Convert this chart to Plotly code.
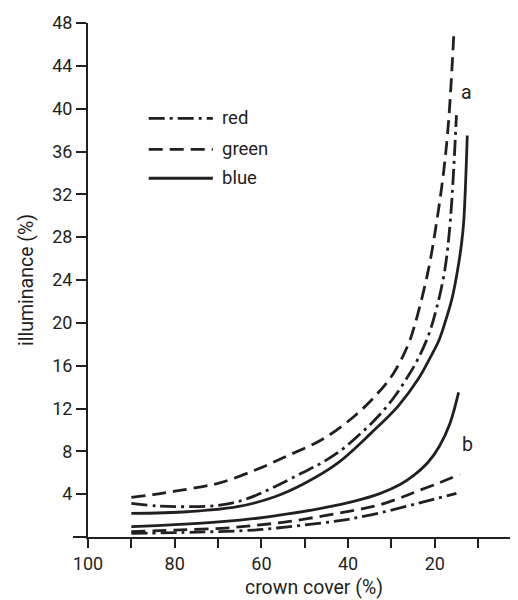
import plotly.graph_objects as go

# ---- data ----
# group "a"
a_blue_x = [90, 77, 65.5, 56.9, 50.1, 42.4, 34.7, 28.5, 23.9, 21.0, 19.0, 17.5, 16.0, 14.5, 13.8, 13.3, 12.5]
a_blue_y = [2.2, 2.36, 2.83, 3.76, 5.0, 6.9, 9.7, 12.2, 14.7, 16.8, 18.4, 20.2, 22.3, 25.5, 27.5, 29.6, 37.5]
a_red_x = [90, 84, 77, 69.2, 63.1, 56.9, 50.8, 46.2, 41.6, 37.0, 33.2, 29.3, 26.2, 23.9, 21.4, 19.5, 17.7, 16.4, 15.0]
a_red_y = [3.15, 2.9, 2.83, 2.99, 3.6, 4.7, 5.95, 6.9, 8.1, 9.7, 11.2, 13.1, 15.0, 16.6, 18.9, 21.5, 24.9, 29.6, 39.4]
a_green_x = [90, 85, 80.3, 75, 69.2, 61.1, 53.9, 46.0, 38.5, 33.2, 29.5, 26.1, 24.4, 21.5, 19.5, 17.9, 16.8, 15.6]
a_green_y = [3.7, 3.95, 4.25, 4.6, 5.1, 6.3, 7.6, 9.1, 11.3, 13.4, 15.3, 18.0, 20.1, 24.9, 29.6, 34.3, 38.9, 47.0]
# group "b"
b_blue_x = [90, 80, 69.2, 61, 53.9, 46, 38.5, 32.7, 28.0, 25.0, 21.5, 18.9, 16.5, 14.5]
b_blue_y = [0.96, 1.15, 1.43, 1.75, 2.15, 2.7, 3.35, 4.05, 4.9, 5.7, 7.0, 8.5, 10.6, 13.5]
b_green_x = [90, 80, 69.2, 61, 53.9, 46, 38.5, 32.7, 27, 23.9, 19, 14.2]
b_green_y = [0.5, 0.65, 0.81, 1.1, 1.43, 1.95, 2.5, 3.0, 3.8, 4.3, 5.05, 5.85]
b_red_x = [90, 75, 61.6, 53.9, 46.2, 40, 32.7, 23.9, 15.0]
b_red_y = [0.34, 0.45, 0.65, 0.95, 1.3, 1.65, 2.25, 3.15, 4.08]

x_ticks = [100, 90, 80, 70, 60, 50, 40, 30, 20, 10]
x_ticklabels = ["100", "", "80", "", "60", "", "40", "", "20", ""]
y_ticks = [4, 8, 12, 16, 20, 24, 28, 32, 36, 40, 44, 48]
legend_names = ["red", "green", "blue"]

FONT = "Roboto, Liberation Sans, sans-serif"
INK = "#231f20"
DASHDOT = "16px,5px,3px,5px"
DASH = "14px,7px"
LW = 2.8
FS = 18
FT = 19.5

fig = go.Figure()

def add(x, y, dash):
    fig.add_trace(go.Scatter(x=x, y=y, mode="lines",
                             line=dict(color=INK, width=LW, dash=dash, shape="spline", smoothing=1.0),
                             showlegend=False, hoverinfo="skip"))

add(a_green_x, a_green_y, DASH)
add(a_red_x, a_red_y, DASHDOT)
add(a_blue_x, a_blue_y, "solid")
add(b_blue_x, b_blue_y, "solid")
add(b_green_x, b_green_y, DASH)
add(b_red_x, b_red_y, DASHDOT)

# legend (manual)
legend_dashes = [DASHDOT, DASH, "solid"]
legend_y = [39.1, 36.2, 33.5]
for name, d, yy in zip(legend_names, legend_dashes, legend_y):
    fig.add_shape(type="line", xref="x", yref="y", x0=86.0, x1=71.2, y0=yy, y1=yy,
                  line=dict(color=INK, width=LW, dash=d))
    fig.add_annotation(x=69.6, y=yy, xref="x", yref="y", text=name, showarrow=False,
                       xanchor="left", yanchor="middle", font=dict(family=FONT, size=18.5, color=INK))

fig.add_annotation(x=12.6, y=41.5, text="a", showarrow=False, font=dict(family=FONT, size=FT, color=INK))
fig.add_annotation(x=12.4, y=8.6, text="b", showarrow=False, font=dict(family=FONT, size=FT, color=INK))

# axis titles
fig.add_annotation(x=(314 - 88) / 430, y=-(587 - 537) / 514, xref="paper", yref="paper",
                   text="crown cover (%)", showarrow=False, xanchor="center", yanchor="middle",
                   font=dict(family=FONT, size=FT, color=INK))
fig.add_annotation(x=-(88 - 26) / 430, y=0.5, xref="paper", yref="paper",
                   text="illuminance (%)", showarrow=False, textangle=-90,
                   xanchor="center", yanchor="middle",
                   font=dict(family=FONT, size=FT, color=INK))

# x-axis line extension to the left of the y-axis
fig.add_shape(type="line", xref="paper", yref="paper", x0=-15 / 430, x1=0, y0=0, y1=0,
              line=dict(color=INK, width=2))

# page has an 8px body margin -> figure is 510x592 so that the plot area lands where the reference has it
fig.update_layout(
    width=510, height=592,
    margin=dict(l=80, r=0, t=15, b=63),
    paper_bgcolor="white", plot_bgcolor="white",
    font=dict(family=FONT, size=FS, color=INK),
    xaxis=dict(range=[100, 0.8], tickvals=x_ticks, ticktext=x_ticklabels,
               ticks="outside", ticklen=9, tickwidth=2, tickcolor=INK,
               showline=True, linewidth=2, linecolor=INK, showgrid=False, zeroline=False,
               tickfont=dict(family=FONT, size=FS, color=INK)),
    yaxis=dict(range=[0, 48], tickvals=y_ticks,
               ticks="outside", ticklen=10, tickwidth=2, tickcolor=INK,
               showline=True, linewidth=2, linecolor=INK, showgrid=False, zeroline=False,
               tickfont=dict(family=FONT, size=FS, color=INK)),
)

fig.write_html("out.html")
